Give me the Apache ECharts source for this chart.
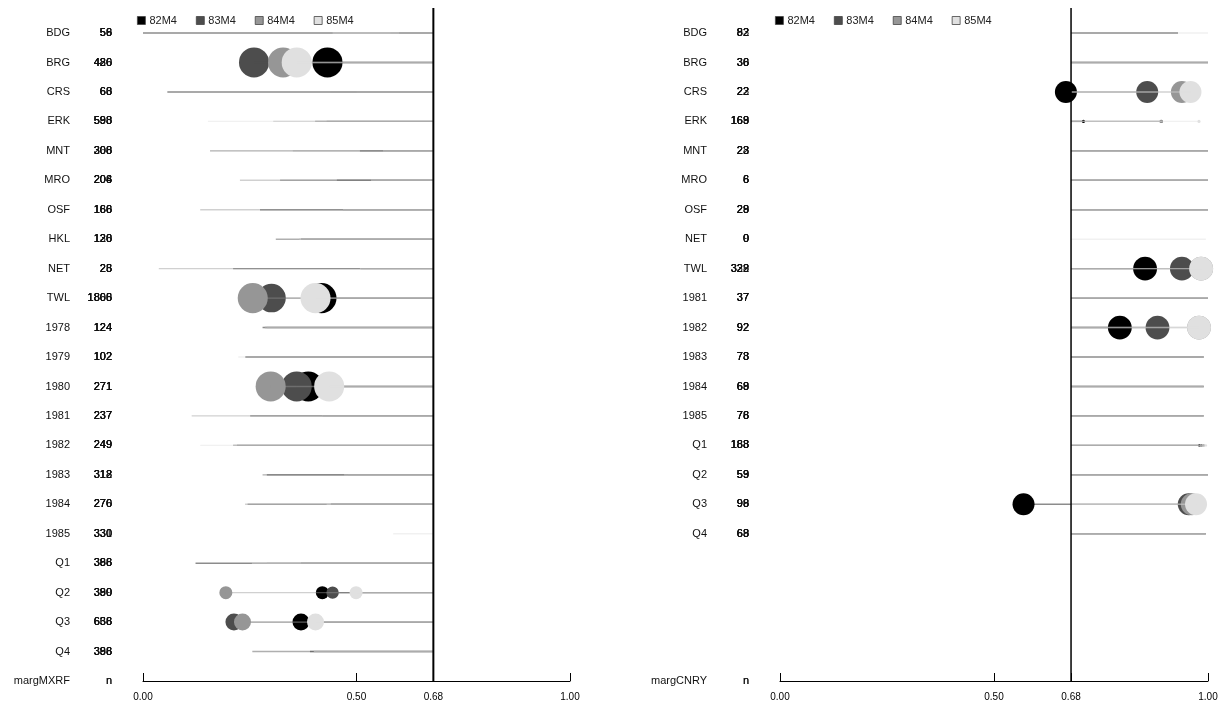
<!DOCTYPE html>
<html>
<head>
<meta charset="utf-8">
<script src="https://cdn.jsdelivr.net/npm/echarts@6/dist/echarts.min.js"></script>
<style>
  html, body { margin: 0; padding: 0; background: #fff; }
  #chart { width: 1225px; height: 709px; }
</style>
</head>
<body>
<div id="chart"></div>
<script>
// Series (model runs) shown in both panels
const seriesNames = ['82M4', '83M4', '84M4', '85M4'];

// Reference threshold marked by the vertical line
const refValue = 0.68;
const tickValues = [0, 0.5, 0.68, 1];

// ---- Left panel: margMXRF ----
const rowsMXRF = ['BDG', 'BRG', 'CRS', 'ERK', 'MNT', 'MRO', 'OSF', 'HKL', 'NET', 'TWL',
  '1978', '1979', '1980', '1981', '1982', '1983', '1984', '1985', 'Q1', 'Q2', 'Q3', 'Q4'];
const mxrf82 = [0.00, 0.432, 0.057, 0.403, 0.508, 0.454, 0.274, 0.37, 0.211, 0.418, 0.28, 0.24, 0.387, 0.251, 0.22, 0.29, 0.44, null, 0.123, 0.42, 0.37, 0.391];
const mxrf83 = [0.60, 0.26, 0.44, 0.43, 0.157, 0.321, 0.468, 0.311, 0.51, 0.301, 0.285, 0.24, 0.36, 0.42, 0.211, 0.28, 0.245, null, 0.37, 0.444, 0.213, 0.256];
const mxrf84 = [0.58, 0.328, 0.50, 0.305, 0.351, 0.227, 0.134, 0.366, 0.037, 0.257, 0.29, 0.24, 0.299, 0.114, 0.211, 0.48, 0.239, null, 0.29, 0.194, 0.233, 0.40];
const mxrf85 = [0.444, 0.36, 0.44, 0.152, 0.562, 0.534, 0.468, 0.366, 0.508, 0.404, 0.285, 0.223, 0.436, 0.419, 0.134, 0.471, 0.43, 0.586, 0.255, 0.499, 0.404, 0.40];
// point weights (0 = no point drawn)
const wMXRF82 = [0, 0.97, 0, 0, 0, 0, 0, 0, 0, 0.97, 0, 0, 0.97, 0, 0, 0, 0, 0, 0, 0.42, 0.55, 0];
const wMXRF83 = [0, 0.97, 0, 0, 0, 0, 0, 0, 0, 0.92, 0, 0, 0.97, 0, 0, 0, 0, 0, 0, 0.40, 0.55, 0];
const wMXRF84 = [0, 0.97, 0, 0, 0, 0, 0, 0, 0, 0.97, 0, 0, 0.97, 0, 0, 0, 0, 0, 0, 0.42, 0.55, 0];
const wMXRF85 = [0, 0.97, 0, 0, 0, 0, 0, 0, 0, 0.97, 0, 0, 0.97, 0, 0, 0, 0, 0, 0, 0.42, 0.55, 0];
// sample sizes
const nMXRF82 = [56, 426, 60, 588, 308, 206, 160, 120, 25, 1865, 124, 102, 271, 237, 249, 312, 270, 330, 388, 380, 638, 386];
const nMXRF83 = [58, 480, 66, 590, 300, 204, 168, 128, 28, 1806, 124, 102, 271, 237, 249, 318, 276, 331, 386, 390, 636, 396];
const nMXRF84 = [59, 486, 68, 598, 268, 208, 166, 126, 26, 1868, 124, 102, 271, 237, 249, 312, 270, 330, 368, 399, 656, 388];
const nMXRF85 = [56, 420, 63, 593, 306, 206, 186, 130, 23, 1800, 124, 102, 271, 237, 249, 318, 276, 330, 396, 380, 668, 398];

// ---- Right panel: margCNRY ----
const rowsCNRY = ['BDG', 'BRG', 'CRS', 'ERK', 'MNT', 'MRO', 'OSF', 'NET', 'TWL',
  '1981', '1982', '1983', '1984', '1985', 'Q1', 'Q2', 'Q3', 'Q4'];
const cnry82 = [0.93, 1.0, 0.668, 0.709, 1.0, 1.0, 1.0, null, 0.853, 1.0, 0.794, 0.99, 0.99, 0.99, 0.98, 1.0, 0.569, 0.995];
const cnry83 = [0.93, 1.0, 0.858, 0.891, 1.0, 1.0, 1.0, null, 0.939, 1.0, 0.882, 0.99, 0.99, 0.99, 0.985, 1.0, 0.955, 0.995];
const cnry84 = [0.93, 1.0, 0.939, 0.89, 1.0, 1.0, 1.0, null, 0.984, 1.0, 0.979, 0.99, 0.99, 0.99, 0.99, 1.0, 0.962, 0.995];
const cnry85 = [1.0, 1.0, 0.959, 0.979, 1.0, 1.0, 1.0, 0.995, 0.984, 1.0, 0.979, 0.99, 0.99, 0.99, 0.995, 1.0, 0.972, 0.995];
const wCNRY82 = [0, 0, 0.71, 0.1, 0, 0, 0, 0, 0.77, 0, 0.77, 0, 0, 0, 0.08, 0, 0.71, 0];
const wCNRY83 = [0, 0, 0.71, 0.1, 0, 0, 0, 0, 0.77, 0, 0.77, 0, 0, 0, 0.08, 0, 0.71, 0];
const wCNRY84 = [0, 0, 0.71, 0.1, 0, 0, 0, 0, 0.77, 0, 0.77, 0, 0, 0, 0.08, 0, 0.71, 0];
const wCNRY85 = [0, 0, 0.71, 0.1, 0, 0, 0, 0, 0.77, 0, 0.77, 0, 0, 0, 0.08, 0, 0.71, 0];
const nCNRY82 = [82, 36, 22, 169, 23, 6, 29, 0, 322, 37, 92, 73, 69, 76, 188, 59, 98, 68];
const nCNRY83 = [83, 38, 23, 168, 22, 8, 28, 9, 328, 37, 92, 78, 68, 78, 168, 53, 96, 69];
const nCNRY84 = [92, 30, 22, 163, 23, 6, 29, 0, 329, 37, 92, 73, 69, 76, 183, 59, 98, 63];
const nCNRY85 = [82, 36, 22, 169, 28, 6, 28, 0, 332, 37, 92, 78, 68, 78, 188, 59, 99, 68];

// ---- styling ----
const dotColors = ['#000000', '#4d4d4d', '#969696', '#e0e0e0'];
const FONT = '"Liberation Sans", Arial, Helvetica, sans-serif';
const MAX_R = 15.5;
const AXIS_ROW = 22;        // slot used by the axis-title row
const TOP_PAD = -0.85;

const panels = [
  { title: 'margMXRF', rows: rowsMXRF, vals: [mxrf82, mxrf83, mxrf84, mxrf85],
    w: [wMXRF82, wMXRF83, wMXRF84, wMXRF85], n: [nMXRF82, nMXRF83, nMXRF84, nMXRF85],
    grid: { left: 143, width: 427 }, refWidth: 2 },
  { title: 'margCNRY', rows: rowsCNRY, vals: [cnry82, cnry83, cnry84, cnry85],
    w: [wCNRY82, wCNRY83, wCNRY84, wCNRY85], n: [nCNRY82, nCNRY83, nCNRY84, nCNRY85],
    grid: { left: 780, width: 428 }, refWidth: 1.5 }
];

const grids = [], xAxes = [], yAxes = [], series = [];

panels.forEach((p, pi) => {
  grids.push({ left: p.grid.left, width: p.grid.width, top: 8, bottom: 709 - 681 });
  xAxes.push({
    gridIndex: pi, type: 'value', min: 0, max: 1, position: 'bottom',
    axisLine: { show: true, onZero: false, lineStyle: { color: '#000', width: 1 } },
    axisTick: { show: true, inside: true, length: 8, customValues: tickValues, lineStyle: { color: '#000' } },
    axisLabel: { show: true, customValues: tickValues, margin: 11, color: '#000',
      fontFamily: FONT, fontSize: 10, formatter: v => v.toFixed(2) },
    splitLine: { show: false }
  });
  yAxes.push({ gridIndex: pi, type: 'value', min: TOP_PAD, max: AXIS_ROW, inverse: true, show: false });

  // row labels and overprinted sample sizes
  const labelData = p.rows.map((r, i) => [0, i, r, p.n[0][i], p.n[1][i], p.n[2][i], p.n[3][i]]);
  labelData.push([0, AXIS_ROW, p.title, 'n', 'n', null, null]);
  series.push({
    type: 'custom', name: 'labels' + pi, xAxisIndex: pi, yAxisIndex: pi, clip: false,
    silent: true, data: labelData,
    renderItem: (params, api) => {
      const d = labelData[params.dataIndex];
      const pt = api.coord([0, d[1]]);
      const txtStyle = (t, x) => ({
        type: 'text', x: x, y: pt[1],
        style: { text: String(t), align: 'right', verticalAlign: 'middle',
          textAlign: 'right', textVerticalAlign: 'middle',
          fill: '#111', font: '11px ' + FONT }
      });
      const kids = [txtStyle(d[2], pt[0] - 73)];
      for (let k = 3; k < 7; k++) if (d[k] !== null) kids.push(txtStyle(d[k], pt[0] - 31));
      return { type: 'group', children: kids };
    }
  });

  // one layer per model run: point + segment to the reference value
  seriesNames.forEach((name, si) => {
    const data = [];
    p.vals[si].forEach((v, i) => { if (v !== null) data.push([v, i, p.w[si][i]]); });
    series.push({
      type: 'custom', name: name, xAxisIndex: pi, yAxisIndex: pi, clip: false,
      itemStyle: { color: dotColors[si] },
      data: data,
      renderItem: (params, api) => {
        const v = api.value(0), row = api.value(1), w = api.value(2);
        const a = api.coord([v, row]);
        const b = api.coord([refValue, row]);
        const kids = [];
        if (w > 0) {
          kids.push({ type: 'circle', shape: { cx: a[0], cy: a[1], r: w * MAX_R },
            style: { fill: dotColors[si] } });
        }
        kids.push({ type: 'line', shape: { x1: a[0], y1: a[1], x2: b[0], y2: b[1] },
          style: { stroke: dotColors[si], lineWidth: 1.4, opacity: 0.45 } });
        return { type: 'group', children: kids };
      }
    });
  });

  // vertical reference line
  series.push({
    type: 'custom', name: 'ref' + pi, xAxisIndex: pi, yAxisIndex: pi, clip: false, silent: true,
    data: [[refValue]],
    renderItem: (params, api) => {
      const t = api.coord([refValue, TOP_PAD]);
      const bt = api.coord([refValue, AXIS_ROW]);
      return { type: 'line', shape: { x1: t[0], y1: t[1], x2: bt[0], y2: bt[1] },
        style: { stroke: '#000', lineWidth: p.refWidth } };
    }
  });
});

const legendBase = {
  data: seriesNames, top: 10, orient: 'horizontal', icon: 'rect',
  itemWidth: 8, itemHeight: 8, itemGap: 19,
  itemStyle: { borderColor: '#444', borderWidth: 0.8 },
  textStyle: { fontFamily: FONT, fontSize: 11, color: '#222', padding: [0, 0, 0, -1] },
  selectedMode: false
};

const chart = echarts.init(document.getElementById('chart'), null, { renderer: 'canvas' });
chart.setOption({
  backgroundColor: '#fff',
  animation: false,
  legend: [Object.assign({ left: 132 }, legendBase), Object.assign({ left: 770 }, legendBase)],
  grid: grids, xAxis: xAxes, yAxis: yAxes, series: series
});
</script>
</body>
</html>
